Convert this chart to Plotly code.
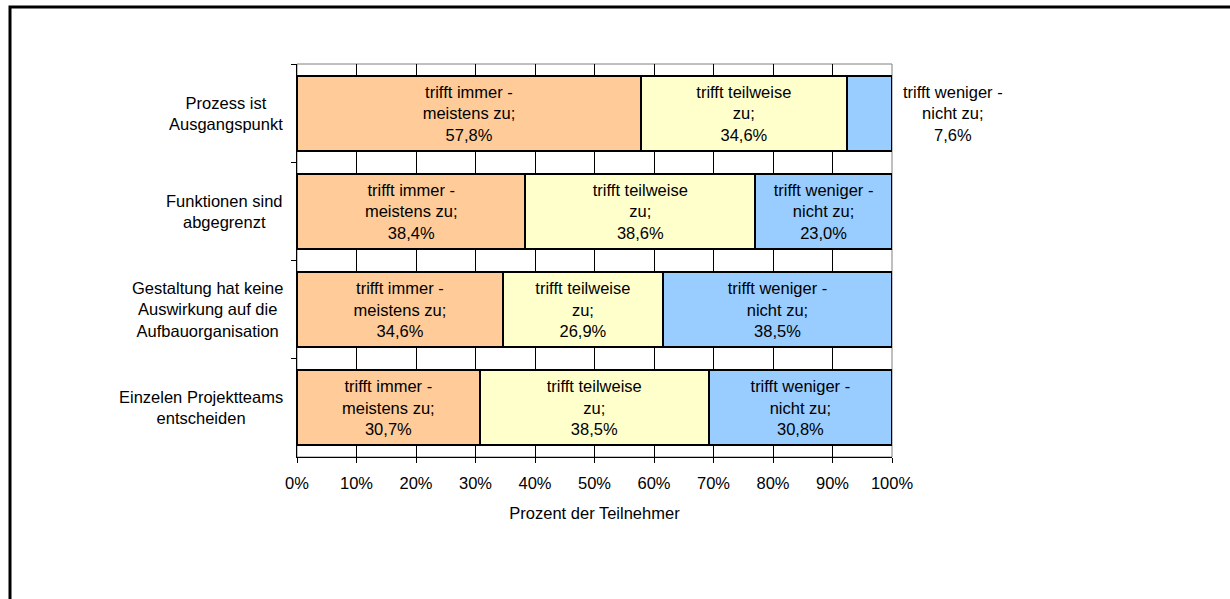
import plotly.graph_objects as go

categories = [
    "Prozess ist<br>Ausgangspunkt",
    "Funktionen sind<br>abgegrenzt",
    "Gestaltung hat keine<br>Auswirkung auf die<br>Aufbauorganisation",
    "Einzelen Projektteams<br>entscheiden",
]
series_names = ["trifft immer - meistens zu", "trifft teilweise zu", "trifft weniger - nicht zu"]
label_prefix = ["trifft immer -<br>meistens zu;", "trifft teilweise<br>zu;", "trifft weniger -<br>nicht zu;"]
val_immer = [57.8, 38.4, 34.6, 30.7]
val_teilweise = [34.6, 38.6, 26.9, 38.5]
val_weniger = [7.6, 23.0, 38.5, 30.8]
x_ticks = [0, 10, 20, 30, 40, 50, 60, 70, 80, 90, 100]
x_ticklabels = [f"{t}%" for t in x_ticks]

colors = ["#FFCC99", "#FFFFCC", "#99CCFF"]
FONT = "Liberation Sans, Arial, sans-serif"
FS = 16.5
SMALL = 10  # segments narrower than this get their label outside

W, H = 1230, 599
ML, MR, MT, MB = 297, 338, 64, 142

fig = go.Figure()
all_vals = [val_immer, val_teilweise, val_weniger]
annotations = []
for i, vals in enumerate(all_vals):
    labels = [label_prefix[i] + "<br>" + f"{v:.1f}%".replace(".", ",") for v in vals]
    texts = []
    for j, v in enumerate(vals):
        if i == len(all_vals) - 1 and v < SMALL:
            texts.append("")
            end = sum(s[j] for s in all_vals)
            annotations.append(dict(x=end, xref="x", y=categories[j], yref="y",
                                    text=labels[j], showarrow=False, xanchor="left",
                                    xshift=9, align="center",
                                    font=dict(family=FONT, size=FS, color="black")))
        else:
            texts.append(labels[j])
    fig.add_trace(go.Bar(
        y=categories, x=vals, orientation="h", name=series_names[i],
        marker=dict(color=colors[i], line=dict(color="black", width=2)),
        text=texts, textposition="inside", insidetextanchor="middle",
        insidetextfont=dict(family=FONT, size=FS, color="black"),
        constraintext="none", showlegend=False, hoverinfo="x+y",
    ))

pw = W - ML - MR
ph = H - MT - MB
def px2paper_x(px):
    return (px - ML) / pw
def px2paper_y(py):
    return 1 - (py - MT) / ph

shapes = [
    dict(type="rect", xref="paper", yref="paper", x0=0, x1=1, y0=0, y1=1,
         line=dict(color="#808080", width=1), layer="below"),
    dict(type="rect", xref="paper", yref="paper",
         x0=px2paper_x(10), x1=px2paper_x(1260), y0=px2paper_y(640), y1=px2paper_y(7),
         line=dict(color="black", width=3), layer="above"),
]

annotations += [
    dict(x=0, xref="paper", y=c, yref="y", text=c, showarrow=False, xanchor="right",
         xshift=-12, align="center", font=dict(family=FONT, size=FS, color="black"))
    for c in categories
]

fig.update_layout(
    width=W, height=H, barmode="stack", bargap=0.235,
    margin=dict(l=ML, r=MR, t=MT, b=MB),
    plot_bgcolor="white", paper_bgcolor="white",
    font=dict(family=FONT, size=FS, color="black"),
    shapes=shapes, annotations=annotations,
    xaxis=dict(range=[0, 100], tickvals=x_ticks, ticktext=x_ticklabels,
               showgrid=True, gridcolor="black", gridwidth=1,
               showline=True, linecolor="black", linewidth=1,
               ticks="outside", ticklen=5, tickcolor="black",
               ticklabelstandoff=6,
               tickfont=dict(family=FONT, size=FS, color="black"),
               title=dict(text="Prozent der Teilnehmer", standoff=16,
                          font=dict(family=FONT, size=FS, color="black")),
               zeroline=False, fixedrange=True),
    yaxis=dict(range=[3.5, -0.5], showticklabels=False, tickson="boundaries",
               ticks="outside", ticklen=5, tickcolor="black",
               showline=True, linecolor="black", linewidth=1,
               showgrid=False, zeroline=False, fixedrange=True),
)

fig.write_html("out.html", config={"displayModeBar": False},
               post_script="document.body.style.margin='0';document.body.style.overflow='hidden';")
